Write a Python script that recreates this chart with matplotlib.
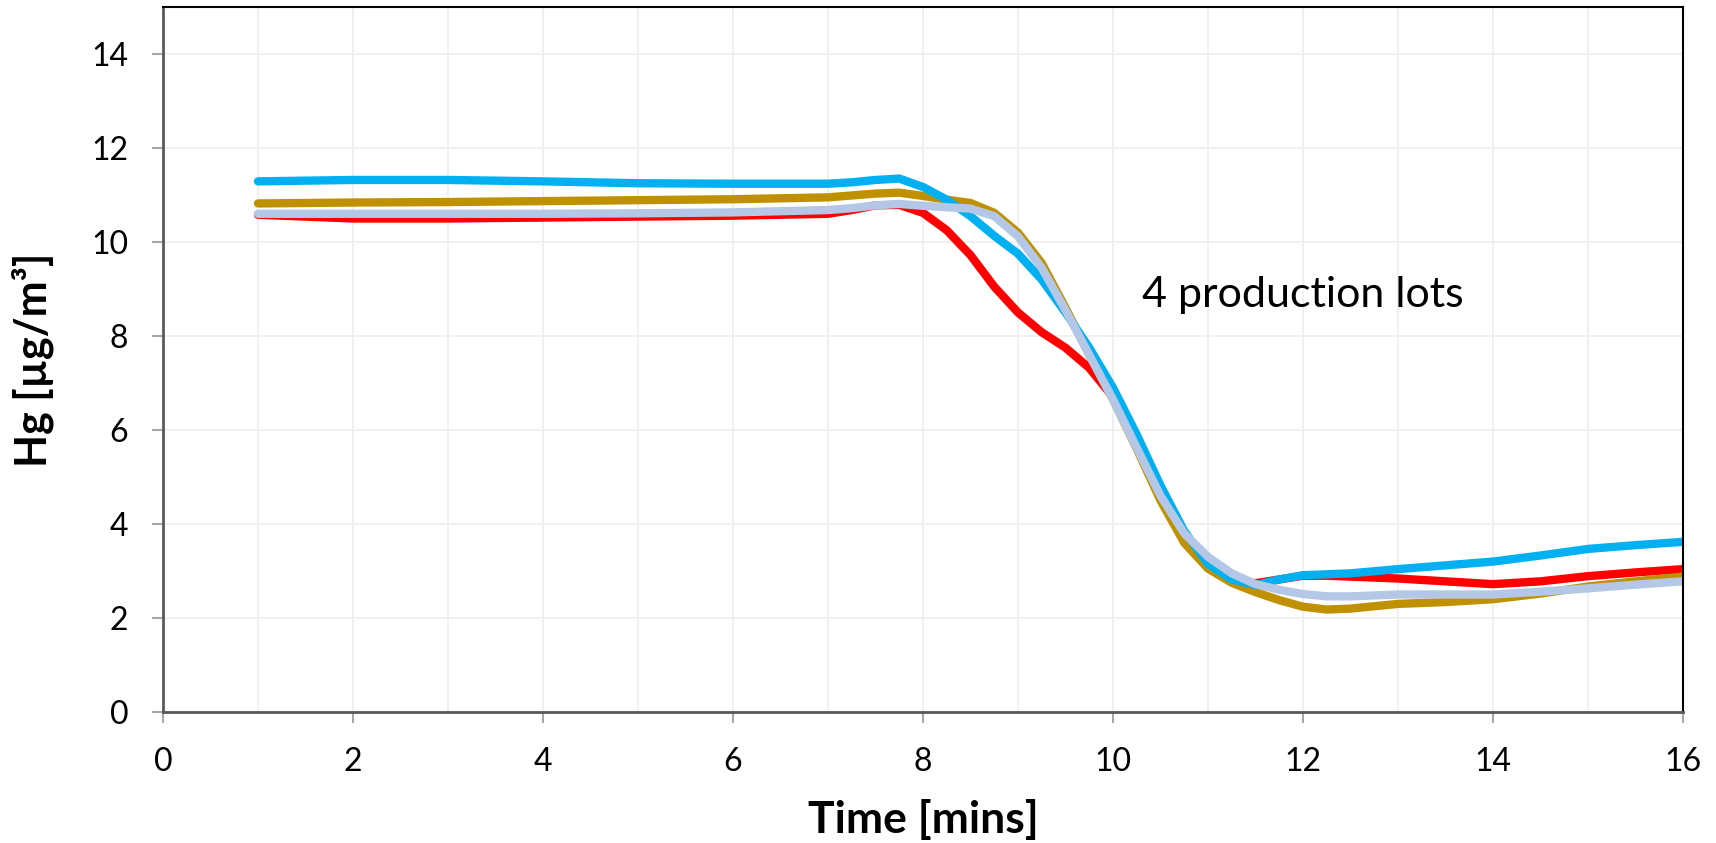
import matplotlib
matplotlib.use("Agg")
import matplotlib.pyplot as plt
from matplotlib.ticker import MultipleLocator

plt.rcParams['font.family'] = ['Lato', 'DejaVu Sans']

# Values (time in minutes, Hg in ug/m3)
time = [1, 2, 3, 4, 5, 6, 7, 7.25, 7.5, 7.75, 8, 8.25, 8.5, 8.75, 9, 9.25, 9.5,
        9.75, 10, 10.25, 10.5, 10.75, 11, 11.25, 11.5, 11.75, 12, 12.25, 12.5,
        13, 13.5, 14, 14.5, 15, 15.5, 16]

lot_red = [10.58, 10.50, 10.50, 10.52, 10.54, 10.56, 10.60, 10.68, 10.78, 10.79,
           10.62, 10.25, 9.72, 9.05, 8.50, 8.08, 7.75, 7.32, 6.70, 5.70, 4.65,
           3.70, 3.10, 2.80, 2.74, 2.82, 2.90, 2.90, 2.88, 2.84, 2.78, 2.72,
           2.78, 2.89, 2.97, 3.04]
lot_gold = [10.82, 10.84, 10.85, 10.87, 10.89, 10.91, 10.95, 10.99, 11.03, 11.05,
            10.98, 10.90, 10.83, 10.62, 10.20, 9.55, 8.60, 7.60, 6.65, 5.60,
            4.50, 3.60, 3.05, 2.75, 2.55, 2.38, 2.24, 2.18, 2.20, 2.30, 2.34,
            2.40, 2.52, 2.67, 2.78, 2.88]
lot_blue = [11.29, 11.32, 11.32, 11.29, 11.25, 11.24, 11.24, 11.27, 11.32, 11.35,
            11.17, 10.90, 10.55, 10.13, 9.75, 9.20, 8.50, 7.75, 6.90, 5.90,
            4.82, 3.85, 3.15, 2.82, 2.70, 2.82, 2.91, 2.93, 2.95, 3.04, 3.12,
            3.20, 3.33, 3.47, 3.55, 3.62]
lot_lightblue = [10.60, 10.60, 10.60, 10.60, 10.61, 10.63, 10.68, 10.72, 10.78,
                 10.81, 10.77, 10.74, 10.71, 10.55, 10.12, 9.45, 8.55, 7.60,
                 6.65, 5.62, 4.60, 3.80, 3.30, 2.95, 2.72, 2.60, 2.51, 2.46,
                 2.46, 2.50, 2.50, 2.50, 2.56, 2.63, 2.71, 2.78]

fig = plt.figure(figsize=(17.16, 8.43), dpi=100)
ax = fig.add_axes([163 / 1716, 1 - 712 / 843, 1520 / 1716, 705 / 843])

lw = 6
ax.plot(time, lot_red, color='#FF0000', lw=lw, solid_capstyle='round', solid_joinstyle='round')
ax.plot(time, lot_gold, color='#BF9000', lw=lw, solid_capstyle='round', solid_joinstyle='round')
ax.plot(time, lot_blue, color='#00B0F0', lw=lw, solid_capstyle='round', solid_joinstyle='round')
ax.plot(time, lot_lightblue, color='#B4C7E7', lw=lw, solid_capstyle='round', solid_joinstyle='round')

ax.set_xlim(0, 16)
ax.set_ylim(0, 15)
ax.xaxis.set_major_locator(MultipleLocator(2))
ax.xaxis.set_minor_locator(MultipleLocator(1))
ax.yaxis.set_major_locator(MultipleLocator(2))

ax.grid(True, which='major', axis='y', color='#EFEFEF', lw=1.3)
ax.grid(True, which='both', axis='x', color='#EFEFEF', lw=1.3)
ax.set_axisbelow(True)

ax.tick_params(axis='both', which='major', length=8, width=1.5, color='#A6A6A6',
               labelsize=23, pad=17)
ax.tick_params(axis='x', which='minor', length=0)

for side in ['left', 'bottom']:
    ax.spines[side].set_color('#595959')
    ax.spines[side].set_linewidth(2)
for side in ['top', 'right']:
    ax.spines[side].set_color('black')
    ax.spines[side].set_linewidth(1.5)

ax.set_xlabel('Time [mins]', fontsize=32, fontweight='bold', va='center')
ax.xaxis.set_label_coords(0.5, -0.152)
ax.set_ylabel('Hg [µg/m³]', fontsize=31, fontweight='bold', va='center', ha='center')
ax.yaxis.set_label_coords(-0.0855, 0.5)

ax.text(12.0, 8.87, '4 production lots', ha='center', va='center', fontsize=31)

fig.savefig('out.png', dpi=100)
